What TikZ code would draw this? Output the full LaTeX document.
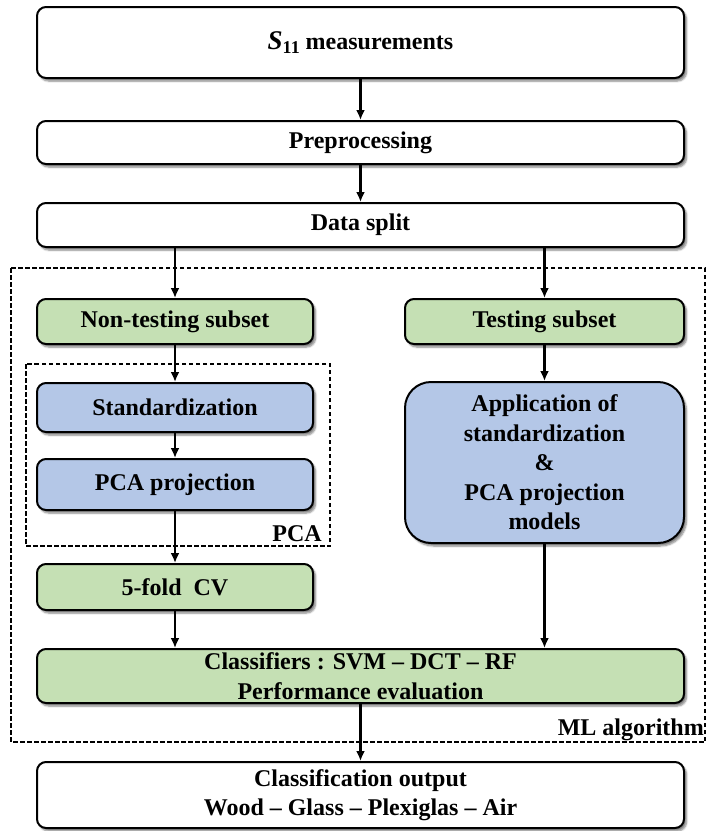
\documentclass[tikz,border=0pt]{standalone}
\usepackage{fontspec}
\setmainfont{Liberation Serif}
\usetikzlibrary{arrows.meta,shadows.blur,calc}
\definecolor{boxgreen}{HTML}{C5E0B4}
\definecolor{boxblue}{HTML}{B4C7E7}
\begin{document}
\begin{tikzpicture}[x=1pt,y=1pt,
  box/.style={draw=black, line width=2pt, rounded corners=9pt, align=center,
    inner sep=0pt, font=\fontsize{24}{29.5}\selectfont\bfseries,
    blur shadow={shadow xshift=2.5pt, shadow yshift=-3pt, shadow blur steps=6, shadow opacity=50}},
  wbox/.style={box, fill=white},
  gbox/.style={box, fill=boxgreen},
  bbox/.style={box, fill=boxblue},
  arr/.style={line width=2.6pt, -{Latex[length=10pt,width=9pt]}},
  dashbox/.style={draw=black, line width=1.5pt, dash pattern=on 4.5pt off 2.5pt},
  lbl/.style={font=\fontsize{24}{29}\selectfont\bfseries, inner sep=0pt}
]
\useasboundingbox (0,0) rectangle (706,-831);

% dashed groups
\draw[dashbox] (11,-268) rectangle (705,-742);
\draw[dashbox] (26,-364) rectangle (330,-546);
\node[lbl, anchor=base east] (mllbl) at (704,-735) {ML algorithm};
\node[lbl, anchor=base east] (pcalbl) at (322,-541) {PCA};

% nodes
\node[wbox, minimum width=647pt, minimum height=71pt] (s11) at (360.5,-42.5)
  {{\fontsize{27}{27}\selectfont\itshape S}\raisebox{-0.4ex}{\fontsize{18}{18}\selectfont 11} measurements};
\node[wbox, minimum width=647pt, minimum height=43pt] (prep) at (360.5,-142.5) {Preprocessing};
\node[wbox, minimum width=647pt, minimum height=44pt] (split) at (360.5,-225) {Data split};
\node[gbox, minimum width=276pt, minimum height=45pt] (nontest) at (175,-321.5) {Non-testing subset};
\node[gbox, minimum width=279pt, minimum height=45pt] (test) at (544.5,-321.5) {Testing subset};
\node[bbox, minimum width=276pt, minimum height=49pt] (std) at (175,-407.5) {Standardization};
\node[bbox, minimum width=276pt, minimum height=51pt] (pcap) at (175,-484.5) {PCA projection};
\node[bbox, rounded corners=26pt, minimum width=279pt, minimum height=161pt] (app) at (544.5,-462.5)
  {Application of\\standardization\\\&\\PCA projection\\models};
\node[gbox, minimum width=276pt, minimum height=46pt] (cv) at (175,-587) {5-fold\ \ CV};
\node[gbox, minimum width=647pt, minimum height=54pt] (clf) at (360.5,-676)
  {Classifiers : SVM -- DCT -- RF\\Performance evaluation};
\node[wbox, minimum width=647pt, minimum height=66pt] (out) at (360.5,-795)
  {Classification output\\Wood -- Glass -- Plexiglas -- Air};

% connectors
\draw[arr] (s11) -- (prep);
\draw[arr] (prep) -- (split);
\draw[arr] (nontest.north |- split.south) -- (nontest.north);
\draw[arr] (test.north |- split.south) -- (test.north);
\draw[arr] (nontest) -- (std);
\draw[arr] (std) -- (pcap);
\draw[arr] (pcap) -- (cv);
\draw[arr] (test) -- (app);
\draw[arr] (cv.south) -- (cv.south |- clf.north);
\draw[arr] (app.south) -- (app.south |- clf.north);
\draw[arr] (clf) -- (out);
\end{tikzpicture}
\end{document}
